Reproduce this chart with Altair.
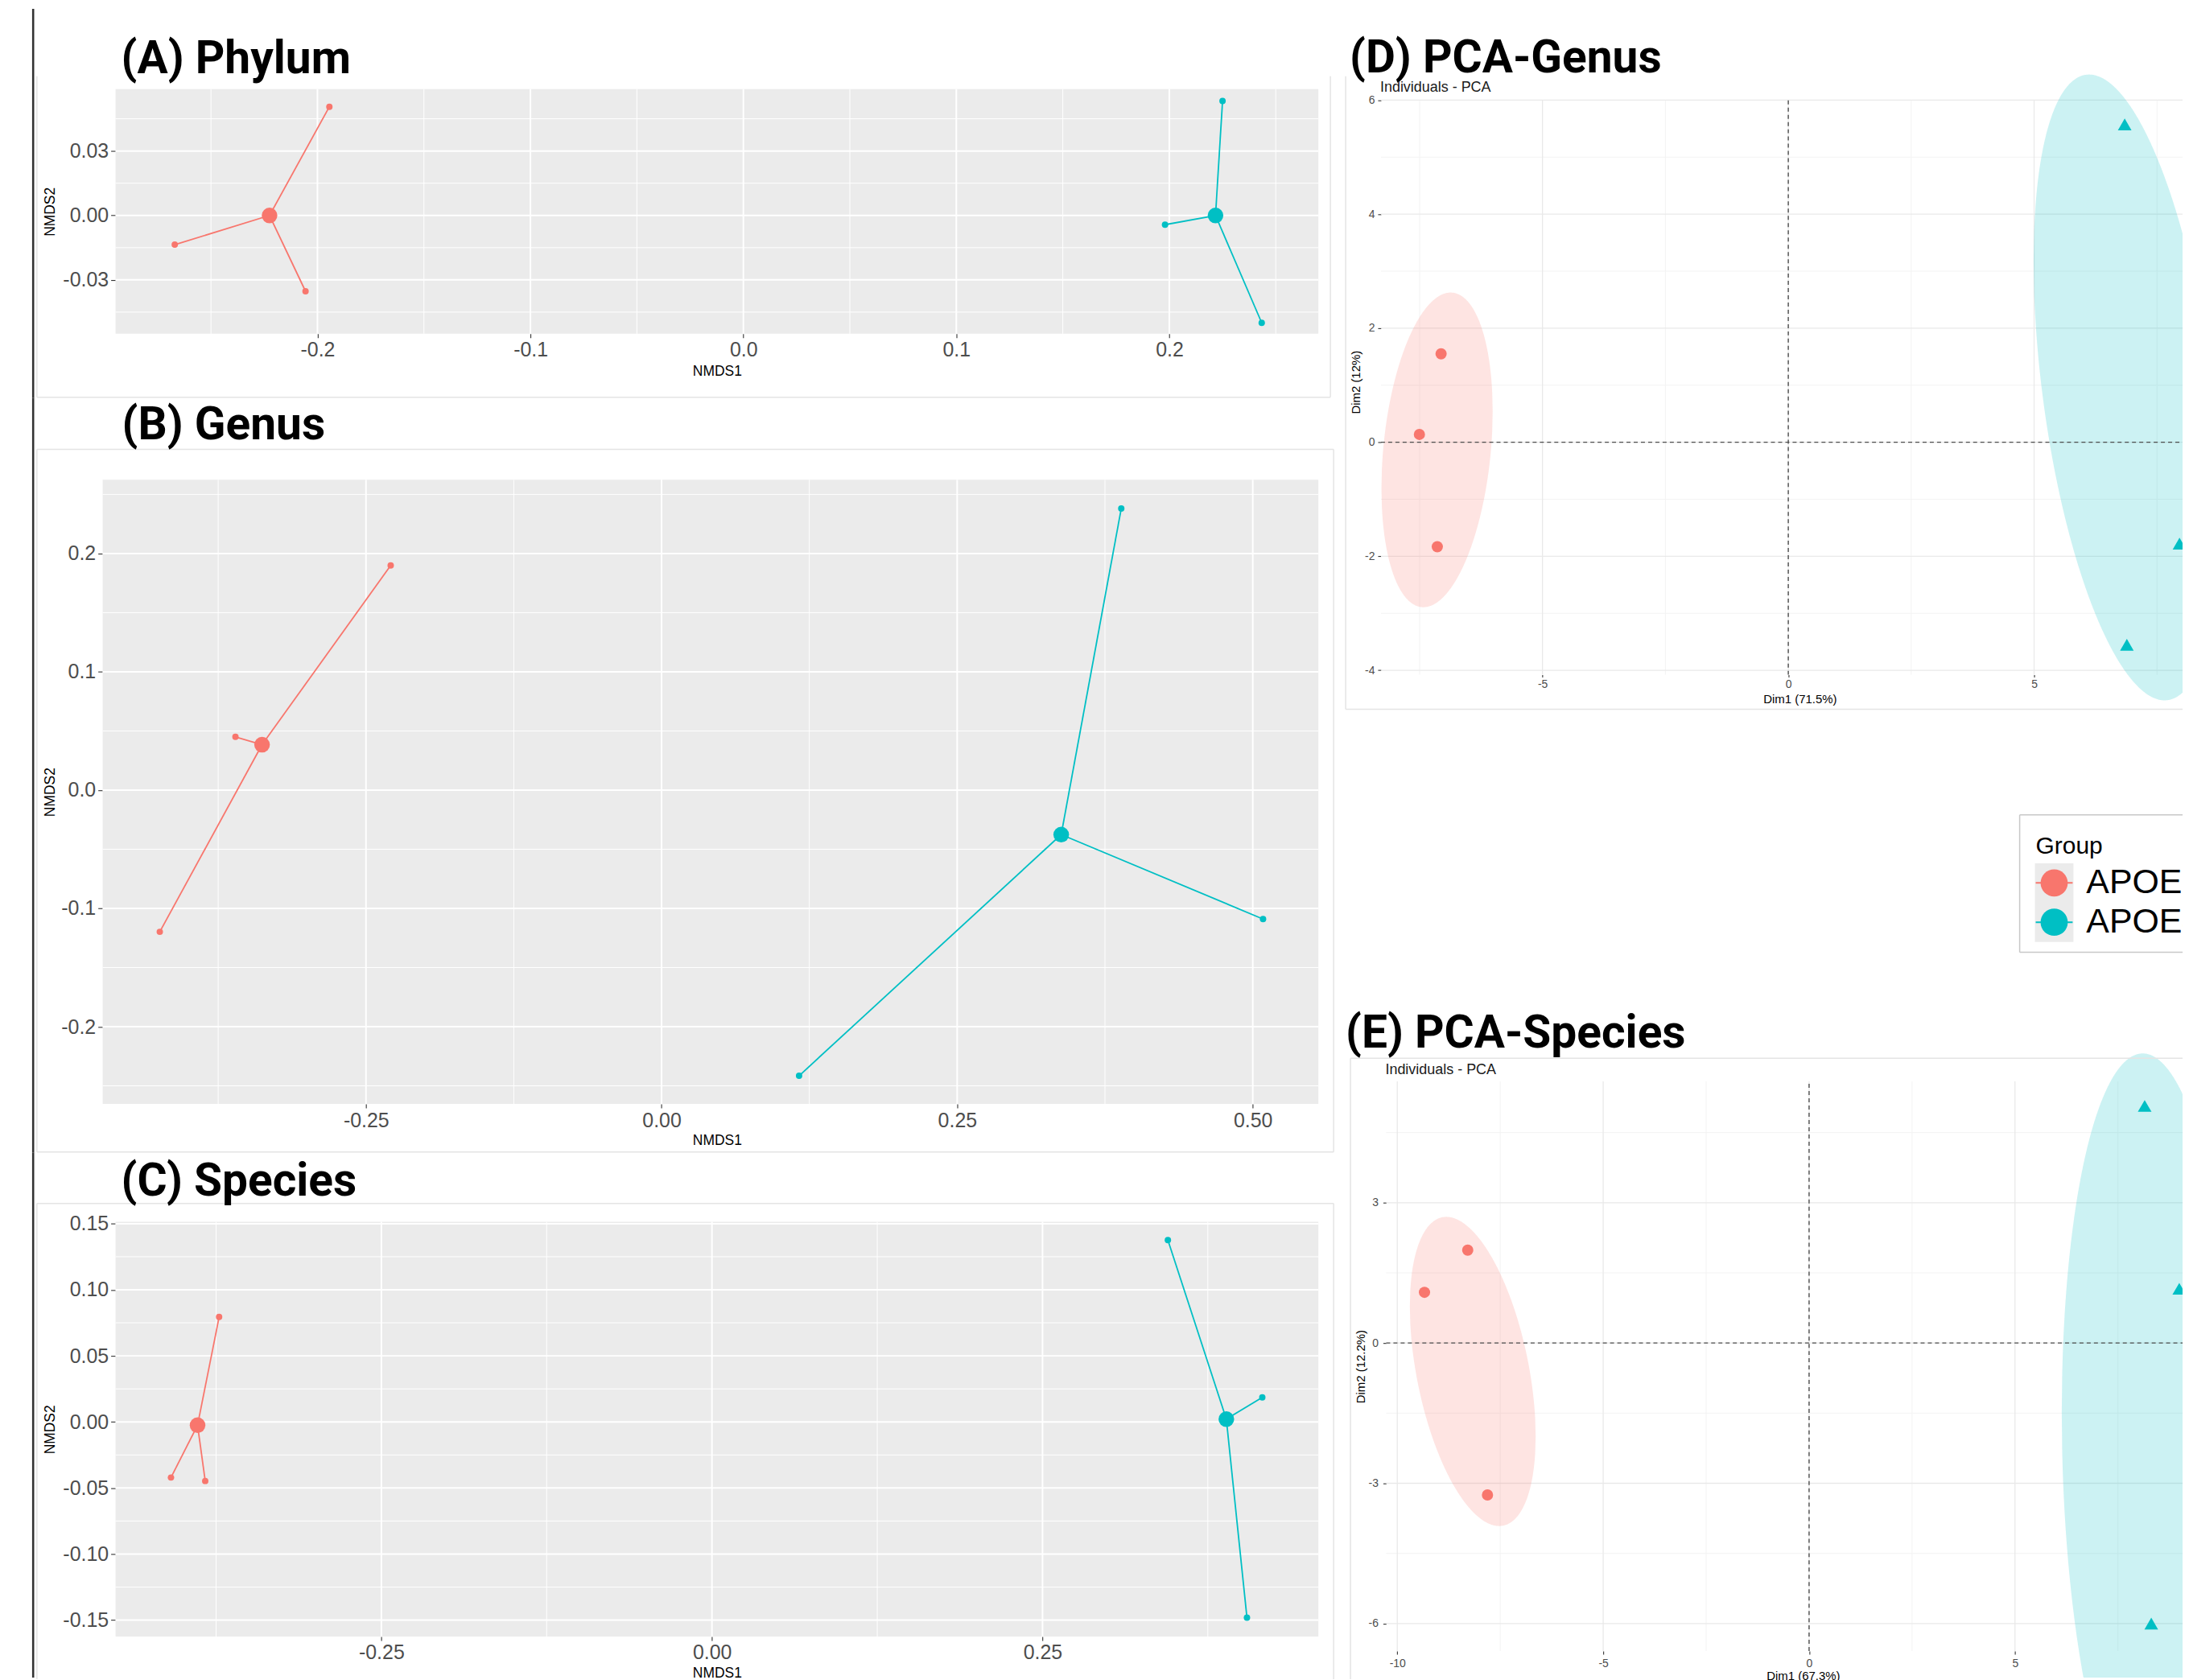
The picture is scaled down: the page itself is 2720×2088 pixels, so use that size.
import altair as alt
import numpy as np
import pandas as pd

RED, TEAL = "#F8766D", "#00BFC4"
GROUPS = ["APOE3", "APOE4"]
SANS = "Liberation Sans"
BOLD = "Roboto"
FAINT = "#E4E4E4"
ONE = pd.DataFrame({"k": [0]})
COLOR = alt.Color("group:N", scale=alt.Scale(domain=GROUPS, range=[RED, TEAL]), legend=None)

# page geometry of the layout cells (the far right / bottom cells reach past the
# window and are cropped by negative padding, like the cut-off reference figure)
RIGHT_EDGE, BOTTOM_EDGE = 2740, 2110
PAGE_RIGHT, PAGE_BOTTOM = 2720, 2088

# ---------------- values ----------------
sample_groups = [GROUPS[0]] * 3 + [GROUPS[1]] * 3

# NMDS samples and group centroids
phylum_x = [-0.1944, -0.2670, -0.2056, 0.2250, 0.1980, 0.2434]
phylum_y = [0.0506, -0.0136, -0.0353, 0.0533, -0.0043, -0.0500]
phylum_cx = [-0.2225, 0.2217]
phylum_cy = [0.0000, 0.0000]

genus_x = [-0.2291, -0.3604, -0.4244, 0.3888, 0.5087, 0.1163]
genus_y = [0.1899, 0.0450, -0.1198, 0.2381, -0.1090, -0.2415]
genus_cx = [-0.3379, 0.3380]
genus_cy = [0.0384, -0.0376]

species_x = [-0.3727, -0.4091, -0.3832, 0.3448, 0.4162, 0.4046]
species_y = [0.0794, -0.0421, -0.0447, 0.1376, 0.0186, -0.1482]
species_cx = [-0.3890, 0.3890]
species_cy = [-0.0025, 0.0021]

# PCA individuals
pca_genus_x = [-7.063, -7.504, -7.140, 6.843, 6.887, 7.958]
pca_genus_y = [1.551, 0.137, -1.833, 5.573, -3.553, -1.777]
pca_species_x = [-8.29, -9.34, -7.81, 8.15, 8.31, 8.99]
pca_species_y = [1.985, 1.084, -3.25, 5.07, -6.00, 1.16]

# concentration ellipses: centre and semi-axis vectors (cx, cy, ax, ay, bx, by)
genus_ellipses = [(-7.145, -0.134, 0.313, 2.758, 1.087, -0.091),
                  (6.887, 0.961, -0.828, 5.485, 1.707, 0.191)]
species_ellipses = [(-8.168, -0.608, -0.737, 3.298, 1.338, 0.232),
                    (8.288, -2.213, -0.195, 8.406, 2.143, 0.038)]


# ---------------- helpers ----------------
def lbl(fmt):
    return f"(datum.value < 0 ? '-' : '') + format(abs(datum.value), '{fmt}')"


def vrule(x, y0, y1, color=FAINT, width=1.5):
    return alt.Chart(ONE).mark_rule(color=color, strokeWidth=width).encode(
        x=alt.value(x), y=alt.value(y0), y2=alt.value(y1))


def hrule(y, x0, x1, color=FAINT, width=1.5):
    return alt.Chart(ONE).mark_rule(color=color, strokeWidth=width).encode(
        x=alt.value(x0), x2=alt.value(x1), y=alt.value(y))


def box(x0, x1, y0, y1, color, opacity=1.0):
    return alt.Chart(ONE).mark_rect(color=color, opacity=opacity).encode(
        x=alt.value(x0), x2=alt.value(x1), y=alt.value(y0), y2=alt.value(y1))


def cell(x0, x1, y0, y1):
    return alt.Chart(ONE).mark_rect(fillOpacity=0).encode(
        x=alt.value(x0), x2=alt.value(x1), y=alt.value(y0), y2=alt.value(y1))


def text(x, y, s, size, font=SANS, weight="normal", color="black", baseline="alphabetic"):
    return alt.Chart(ONE).mark_text(align="left", baseline=baseline, font=font, fontSize=size,
                                    fontWeight=weight, color=color).encode(
        x=alt.value(x), y=alt.value(y), text=alt.value(s))


def grid(X, Y, xs, ylim, ys, xlim, color, width, dash=None):
    kw = dict(color=color, strokeWidth=width)
    if dash:
        kw["strokeDash"] = dash
    out = []
    if xs:
        d = pd.DataFrame({"x": xs, "y": ylim[0], "y2": ylim[1]})
        out.append(alt.Chart(d).mark_rule(**kw).encode(x=X, y=Y, y2="y2:Q"))
    if ys:
        d = pd.DataFrame({"y": ys, "x": xlim[0], "x2": xlim[1]})
        out.append(alt.Chart(d).mark_rule(**kw).encode(y=Y, x=X, x2="x2:Q"))
    return out


def decorations(lines, left, top):
    out = []
    for kind, a, b0, b1 in lines:
        if kind == "v":
            out.append(vrule(a - left, b0 - top, b1 - top))
        else:
            out.append(hrule(a - top, b0 - left, b1 - left))
    return out


def ellipse_band(e, xmax=None, ymin=None, n=260):
    cx, cy, ax, ay, bx, by = e
    R = np.hypot(ax, bx)
    phi = np.arctan2(bx, ax)
    x1 = cx + R if xmax is None else min(cx + R, xmax)
    xs = np.linspace(cx - R, x1, n)
    t = np.arccos(np.clip((xs - cx) / R, -1, 1))
    ya = cy + ay * np.cos(phi + t) + by * np.sin(phi + t)
    yb = cy + ay * np.cos(phi - t) + by * np.sin(phi - t)
    hi, lo = np.maximum(ya, yb), np.minimum(ya, yb)
    if ymin is not None:
        hi, lo = np.maximum(hi, ymin), np.maximum(lo, ymin)
    return pd.DataFrame({"x": xs, "y": hi, "y2": lo})


# ---------------- NMDS panels ----------------
def nmds_panel(p):
    left, top, w, h = p["view"]
    X = alt.X("x:Q", title="NMDS1",
              scale=alt.Scale(domain=p["xdom"], nice=False, zero=False),
              axis=alt.Axis(values=p["xticks"], labelExpr=lbl(p["xfmt"]), tickSize=5,
                            labelFontSize=25, labelPadding=p["xlabpad"], titleFontSize=17.5,
                            titlePadding=p["xtitlepad"]))
    Y = alt.Y("y:Q", title="NMDS2",
              scale=alt.Scale(domain=p["ydom"], nice=False, zero=False),
              axis=alt.Axis(values=p["yticks"], labelExpr=lbl(p["yfmt"]), tickSize=6,
                            labelFontSize=25, labelPadding=3, titleFontSize=17.5,
                            titlePadding=p["ytitlepad"], offset=p["yoffset"]))
    xlim = (p["bgx0"], p["xdom"][1])
    ylim = tuple(p["ydom"])
    c0, c1 = p["cell"]
    layers = [cell(38 - left, 1664 - left, c0 - top, c1 - top)]
    bg = pd.DataFrame({"x": [xlim[0]], "x2": [xlim[1]], "y": [ylim[0]], "y2": [ylim[1]]})
    layers.append(alt.Chart(bg).mark_rect(color="#EBEBEB").encode(x=X, x2="x2:Q", y=Y, y2="y2:Q"))
    layers += grid(X, Y, p["xminor"], ylim, p["yminor"], xlim, "white", 1.0)
    layers += grid(X, Y, p["xticks"], ylim, p["yticks"], xlim, "white", 2.0)
    samples = pd.DataFrame({"x": p["x"], "y": p["y"], "group": sample_groups,
                            "x2": [p["cx"][0]] * 3 + [p["cx"][1]] * 3,
                            "y2": [p["cy"][0]] * 3 + [p["cy"][1]] * 3})
    cents = pd.DataFrame({"x": p["cx"], "y": p["cy"], "group": GROUPS})
    layers.append(alt.Chart(samples).mark_rule(strokeWidth=1.8).encode(
        x=X, y=Y, x2="x2:Q", y2="y2:Q", color=COLOR))
    layers.append(alt.Chart(samples).mark_circle(size=64, opacity=1).encode(x=X, y=Y, color=COLOR))
    layers.append(alt.Chart(cents).mark_circle(size=380, opacity=1).encode(x=X, y=Y, color=COLOR))
    layers += decorations(p["lines"], left, top)
    # dark frame line on the far left of the figure
    layers.append(box(40 - left, 42.6 - left, c0 - top, min(c1, 2088) - top, "#333333"))
    layers.append(text(p["title_xy"][0] - left, p["title_xy"][1] - top, p["title"], 57, BOLD, "bold"))
    return alt.layer(*layers).properties(width=w, height=h)


A = nmds_panel(dict(
    title="(A) Phylum", title_xy=(151, 88.3), x=phylum_x, y=phylum_y, cx=phylum_cx, cy=phylum_cy,
    view=(144, 108, 1499, 305), cell=(8, 493), xdom=[-0.2948, 0.270], ydom=[-0.0551, 0.0588],
    bgx0=-0.2948, xticks=[-0.2, -0.1, 0.0, 0.1, 0.2], xminor=[-0.25, -0.15, -0.05, 0.05, 0.15, 0.25],
    yticks=[-0.03, 0.0, 0.03], yminor=[-0.045, -0.015, 0.015, 0.045], xfmt=".1f", yfmt=".2f",
    xlabpad=3, xtitlepad=4.5, ytitlepad=6, yoffset=0,
    lines=[("v", 46, 92, 492), ("v", 1658, 92, 492), ("h", 492, 46, 1658)]))

B = nmds_panel(dict(
    title="(B) Genus", title_xy=(152, 545), x=genus_x, y=genus_y, cx=genus_cx, cy=genus_cy,
    view=(144, 595, 1499, 778), cell=(493, 1434), xdom=[-0.4618, 0.5555], ydom=[-0.2653, 0.2623],
    bgx0=-0.4727, xticks=[-0.25, 0.0, 0.25, 0.5], xminor=[-0.375, -0.125, 0.125, 0.375],
    yticks=[-0.2, -0.1, 0.0, 0.1, 0.2], yminor=[-0.25, -0.15, -0.05, 0.05, 0.15, 0.25],
    xfmt=".2f", yfmt=".1f", xlabpad=3.6, xtitlepad=3, ytitlepad=4, yoffset=16,
    lines=[("h", 557, 46, 1662), ("v", 46, 557, 1433), ("v", 1662, 557, 1433), ("h", 1433, 46, 1662)]))

C = nmds_panel(dict(
    title="(C) Species", title_xy=(151, 1487), x=species_x, y=species_y, cx=species_cx, cy=species_cy,
    view=(144, 1520, 1499, 517), cell=(1434, BOTTOM_EDGE), xdom=[-0.451, 0.4586], ydom=[-0.1625, 0.1514],
    bgx0=-0.451, xticks=[-0.25, 0.0, 0.25], xminor=[-0.375, -0.125, 0.125, 0.375],
    yticks=[-0.15, -0.1, -0.05, 0.0, 0.05, 0.1, 0.15],
    yminor=[-0.125, -0.075, -0.025, 0.025, 0.075, 0.125],
    xfmt=".2f", yfmt=".2f", xlabpad=2.2, xtitlepad=4, ytitlepad=6, yoffset=0,
    lines=[("h", 1497, 46, 1662), ("v", 46, 1497, 2090), ("v", 1662, 1497, 2090)]))


# ---------------- PCA panels ----------------
def pca_panel(p):
    left, top, w, h = p["view"]
    X = alt.X("x:Q", title=p["xtitle"],
              scale=alt.Scale(domain=p["xdom"], nice=False, zero=False),
              axis=alt.Axis(values=p["xticks"], labelExpr=lbl("d"), tickSize=p["xtick"],
                            labelFontSize=14, labelPadding=p["xlabpad"], titleFontSize=15,
                            titleX=p["titleX"], titleY=p["titleY"], titleBaseline="top"))
    Y = alt.Y("y:Q", title=p["ytitle"],
              scale=alt.Scale(domain=p["ydom"], nice=False, zero=False),
              axis=alt.Axis(values=p["yticks"], labelExpr=lbl("d"), tickSize=4,
                            labelFontSize=14, labelPadding=p["ylabpad"], titleFontSize=15,
                            titlePadding=p["ytitlepad"], offset=p["yoffset"]))
    xlim, ylim = p["xplot"], p["yplot"]
    layers = [cell(1664 - left, RIGHT_EDGE - left, p["cell"][0] - top, p["cell"][1] - top)]
    layers += grid(X, Y, p["xminor"], ylim, p["yminor"], xlim, "#F3F3F3", 1.0)
    layers += grid(X, Y, p["xticks"], ylim, p["yticks"], xlim, "#E9E9E9", 1.3)
    for e, color, clamp in zip(p["ellipses"], [RED, TEAL], p["clamps"]):
        layers.append(alt.Chart(ellipse_band(e, **clamp)).mark_area(color=color, opacity=0.2).encode(
            x=X, y=Y, y2="y2:Q"))
    layers += grid(X, Y, [0], ylim, [0], xlim, "#4D4D4D", 1.4, dash=[5, 4])
    d = pd.DataFrame({"x": p["x"], "y": p["y"], "group": sample_groups})
    layers.append(alt.Chart(d[d.group == GROUPS[0]]).mark_point(
        shape="circle", filled=True, size=196, opacity=1, clip=True).encode(x=X, y=Y, color=COLOR))
    layers.append(alt.Chart(d[d.group == GROUPS[1]]).mark_point(
        shape="triangle-up", filled=True, size=290, opacity=1, clip=True).encode(x=X, y=Y, color=COLOR))
    layers += decorations(p["lines"], left, top)
    layers.append(text(p["title_xy"][0] - left, p["title_xy"][1] - top, p["title"], 57, BOLD, "bold"))
    layers.append(text(p["sub_xy"][0] - left, p["sub_xy"][1] - top, "Individuals - PCA", 18,
                       color="#1A1A1A"))
    return alt.layer(*layers).properties(width=w, height=h)


D = pca_panel(dict(
    title="(D) PCA-Genus", title_xy=(1682, 86.7), sub_xy=(1720, 111.7),
    x=pca_genus_x, y=pca_genus_y, ellipses=genus_ellipses,
    clamps=[{}, {"xmax": 8.02}],
    view=(1721, 108, 999, 730), cell=(8, 1012),
    xdom=[-8.286, 8.02], ydom=[-4.078, 6.193], xplot=(-8.286, 8.02), yplot=(-4.078, 6.0),
    xticks=[-5, 0, 5], xminor=[-7.5, -2.5, 2.5, 7.5], yticks=[-4, -2, 0, 2, 4, 6],
    yminor=[-3, -1, 1, 3, 5], xtitle="Dim1 (71.5%)", ytitle="Dim2 (12%)",
    xtick=3, xlabpad=1.5, titleX=522, titleY=22.5, ylabpad=4, ytitlepad=3, yoffset=0,
    lines=[("v", 1677, 92, 881), ("h", 881, 1677, 2720)]))

E = pca_panel(dict(
    title="(E) PCA-Species", title_xy=(1677, 1302.5), sub_xy=(1726.5, 1335.5),
    x=pca_species_x, y=pca_species_y, ellipses=species_ellipses,
    clamps=[{}, {"xmax": 9.07, "ymin": -7.154}],
    view=(1721, 1345, 999, 710), cell=(1250, BOTTOM_EDGE),
    xdom=[-10.397, 9.07], ydom=[-6.588, 5.593], xplot=(-10.27, 9.07), yplot=(-6.588, 5.593),
    xticks=[-10, -5, 0, 5], xminor=[-7.5, -2.5, 2.5, 7.5], yticks=[-6, -3, 0, 3],
    yminor=[-4.5, -1.5, 1.5, 4.5], xtitle="Dim1 (67.3%)", ytitle="Dim2 (12.2%)",
    xtick=4, xlabpad=5, titleX=526, titleY=24, ylabpad=6, ytitlepad=2, yoffset=-6.5,
    lines=[("v", 1683, 1316, 2090), ("h", 1316, 1683, 2720)]))


# ---------------- shared legend (cut by the right edge) ----------------
def legend_panel():
    left, top, w, h = 1721, 1012, 999, 238
    Yrow = alt.Y("group:N", axis=None,
                 scale=alt.Scale(type="point", domain=GROUPS, range=[85.5, 134.5], padding=0))
    d = pd.DataFrame({"group": GROUPS})
    layers = [
        cell(1664 - left, RIGHT_EDGE - left, 0, 1250 - top),
        vrule(796, 0.75, 172, "#C8C8C8", 1.5),
        hrule(0.75, 796, 999, "#C8C8C8", 1.5),
        hrule(172, 796, 999, "#C8C8C8", 1.5),
        text(816, 39.7, "Group", 30, baseline="middle"),
        box(815, 863, 61, 159, "#EBEBEB"),
        alt.Chart(d).mark_rule(strokeWidth=2).encode(
            x=alt.value(816), x2=alt.value(862), y=Yrow, color=COLOR),
        alt.Chart(d).mark_circle(size=1150, opacity=1).encode(x=alt.value(839), y=Yrow, color=COLOR),
        alt.Chart(d).mark_text(align="left", baseline="middle", font=SANS, fontSize=43,
                               color="black", clip=True).encode(
            x=alt.value(879), y=Yrow, text="group:N"),
    ]
    return alt.layer(*layers).properties(width=w, height=h)


L = legend_panel()

left_col = alt.vconcat(A, B, C, spacing=0)
right_col = alt.vconcat(D, L, E, spacing=0)

chart = alt.hconcat(left_col, right_col, spacing=0).properties(
    padding={"left": 30, "top": 0,
             "right": PAGE_RIGHT - RIGHT_EDGE, "bottom": PAGE_BOTTOM - BOTTOM_EDGE},
    background="white"
).configure_view(strokeWidth=0).configure_axis(
    domain=False, grid=False, tickColor="#333333", tickWidth=1.1,
    labelColor="#4D4D4D", labelFont=SANS, titleFont=SANS, titleFontWeight="normal",
    titleColor="black", labelFlush=False, labelOverlap=False)

chart.save("out.html", embed_options={"renderer": "svg", "actions": False})
